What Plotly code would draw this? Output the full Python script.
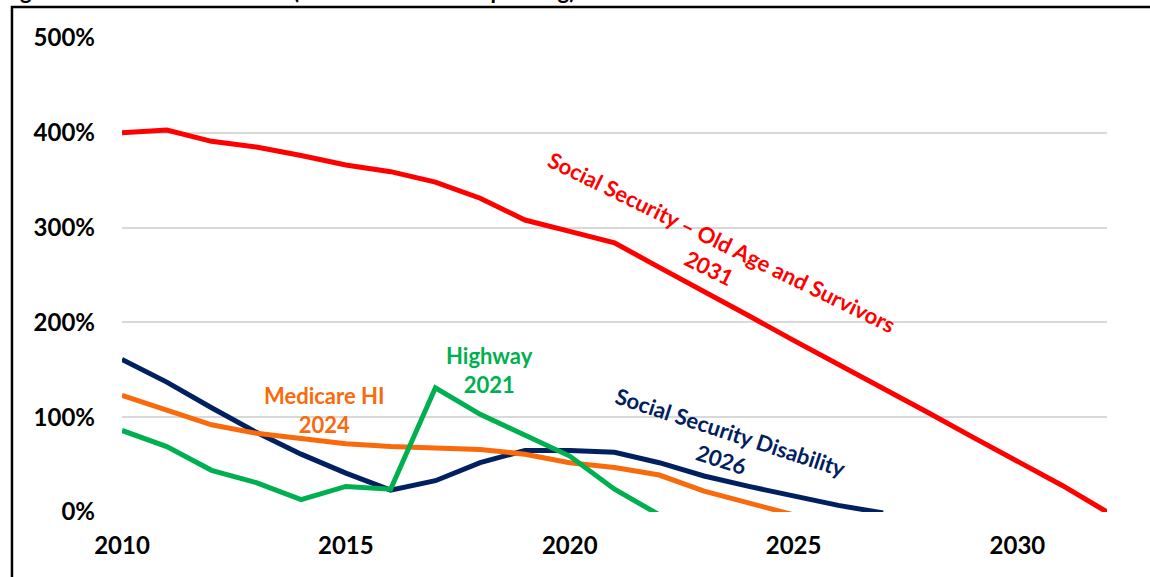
import plotly.graph_objects as go

years = list(range(2010, 2033))

oasi = [400, 403, 391, 385, 376, 366, 359, 348, 331, 308, 296, 284,
        258, 233, 207, 181, 156, 130, 105, 79, 54, 28, 0]
ssdi = [161, 137, 110, 84, 61, 41, 23, 33, 52, 65, 65, 63,
        52, 38, 27, 17, 7, -1]
hi = [123, 107, 92, 83, 77, 72, 69, 68, 66, 61, 52, 47,
      39, 22, 9, -3]
highway = [86, 69, 44, 31, 13, 27, 24, 131, 103, 81, 59, 24, -3]

series = [
    ("Social Security – Old Age and Survivors", oasi, "#FF0000"),
    ("Social Security Disability", ssdi, "#002060"),
    ("Medicare HI", hi, "#F86A0C"),
    ("Highway", highway, "#00B050"),
]

labels = [
    ("Social Security – Old Age and Survivors<br>2031", 2023.25, 271, 26, "#FF0000"),
    ("Social Security Disability<br>2026", 2023.5, 70, 18, "#002060"),
    ("Medicare HI<br>2024", 2014.53, 108, 0, "#F86A0C"),
    ("Highway<br>2021", 2018.2, 150, 0, "#00B050"),
]

y_ticks = [0, 100, 200, 300, 400, 500]
y_tick_text = ["0%", "100%", "200%", "300%", "400%", "500%"]
x_ticks = [2010, 2015, 2020, 2025, 2030]

FONT = "Lato"

fig = go.Figure()
for name, vals, color in series:
    fig.add_trace(go.Scatter(
        x=years[:len(vals)], y=vals, mode="lines", name=name,
        line=dict(color=color, width=5), showlegend=False,
        hoverinfo="skip",
    ))

for text, x, y, ang, color in labels:
    fig.add_annotation(
        x=x, y=y, xref="x", yref="y", text=f"<b>{text}</b>",
        showarrow=False, textangle=ang, xanchor="center", yanchor="middle",
        font=dict(family=FONT, size=22, color=color),
    )

# partially visible title at very top
fig.add_annotation(
    x=-0.1239, y=1.0675, xref="paper", yref="paper", xanchor="left", yanchor="bottom",
    text="<b>Figure 3: Trust Fund Balances (Percent of Annual Spending)</b>",
    showarrow=False, font=dict(family=FONT, size=22, color="black"),
)

# frame border
fig.add_shape(
    type="rect", xref="paper", yref="paper",
    x0=-0.1117, y0=-0.3, x1=1.2, y1=1.0654,
    line=dict(color="black", width=2.5), fillcolor="rgba(0,0,0,0)", layer="above",
)

fig.update_xaxes(
    range=[2010, 2032], tickvals=x_ticks, showgrid=False, zeroline=False,
    showline=False, ticks="", ticklabelstandoff=17,
    tickfont=dict(family=FONT, size=24, color="black", weight="bold"),
)
fig.update_yaxes(
    range=[0, 500], tickvals=y_ticks, ticktext=y_tick_text, showgrid=True,
    gridcolor="#D9D9D9", gridwidth=1.5, zeroline=False, showline=False, ticks="",
    ticklabelstandoff=26,
    tickfont=dict(family=FONT, size=24, color="black", weight="bold"),
)

fig.update_layout(
    width=1150, height=577,
    margin=dict(l=122, r=43, t=38, b=65),
    plot_bgcolor="white", paper_bgcolor="white",
    font=dict(family=FONT),
)

fig.write_html("out.html")
